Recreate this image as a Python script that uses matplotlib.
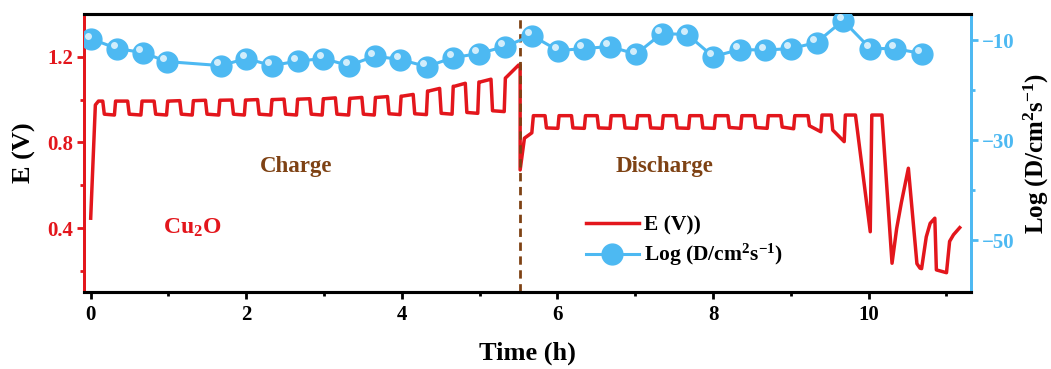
import numpy as np
import matplotlib
matplotlib.use("Agg")
import matplotlib.pyplot as plt
import matplotlib.transforms as mtransforms
from matplotlib.lines import Line2D

plt.rcParams['font.family'] = ['Liberation Serif', 'DejaVu Serif']
plt.rcParams['font.weight'] = 'bold'
plt.rcParams['mathtext.fontset'] = 'custom'
plt.rcParams['mathtext.rm'] = 'Liberation Serif:bold'
plt.rcParams['mathtext.it'] = 'Liberation Serif:bold'
plt.rcParams['mathtext.bf'] = 'Liberation Serif:bold'

# ---------------- data ----------------
# diffusion coefficient points (time in h, log D)
d_time = [0.01, 0.34, 0.67, 0.98, 1.67, 2.00, 2.33, 2.66, 2.99, 3.32, 3.65, 3.98,
          4.32, 4.66, 4.99, 5.32, 5.67, 6.01, 6.34, 6.67, 7.01, 7.34, 7.67, 8.00,
          8.34, 8.67, 9.00, 9.33, 9.67, 10.02, 10.34, 10.68]
d_logD = [-9.8, -11.7, -12.5, -14.3, -15.1, -13.7, -15.1, -14.2, -13.7, -15.1, -13.2, -13.9,
          -15.3, -13.5, -12.7, -11.3, -9.1, -12.1, -11.7, -11.3, -12.8, -8.7, -8.9, -13.3,
          -11.9, -12.0, -11.7, -10.5, -6.1, -11.7, -11.7, -12.7]

# GITT potential curve (time h, E V)
# charge: initial rise and first pulse
e_start_t = [0.00, 0.06, 0.10, 0.155, 0.175]
e_start_E = [0.447, 0.975, 0.993, 0.993, 0.932]
# charge pulses: rise time, high start, high end, low level following the pulse
ch_rise = [0.32, 0.66, 0.99, 1.32, 1.66, 1.99, 2.33, 2.66, 2.99, 3.33, 3.66, 3.99, 4.33, 4.66, 4.99]
ch_hi_s = [0.993, 0.993, 0.993, 0.995, 0.997, 0.998, 1.000, 1.002, 1.004, 1.006, 1.010, 1.016, 1.040, 1.062, 1.082]
ch_hi_e = [0.993, 0.993, 0.995, 0.997, 0.998, 1.000, 1.002, 1.004, 1.008, 1.010, 1.014, 1.024, 1.052, 1.076, 1.095]
ch_low = [0.928, 0.928, 0.928, 0.928, 0.928, 0.928, 0.928, 0.928, 0.928, 0.928, 0.930, 0.930, 0.932, 0.936, 0.944]
# last charge pulse and switch to discharge
e_mid_t = [5.315, 5.33, 5.35, 5.50, 5.52, 5.52, 5.575, 5.67, 5.69]
e_mid_E = [0.944, 1.100, 1.107, 1.161, 1.161, 0.672, 0.820, 0.845, 0.925]
# discharge pulses: drop time, low start, low end, rest (high) level after the pulse
dc_drop = [5.84, 6.18, 6.51, 6.85, 7.18, 7.52, 7.85, 8.19, 8.53, 8.87, 9.22, 9.52]
dc_lo_s = [0.868, 0.868, 0.868, 0.868, 0.868, 0.868, 0.868, 0.870, 0.870, 0.872, 0.878, 0.858]
dc_lo_e = [0.866, 0.866, 0.866, 0.866, 0.866, 0.866, 0.866, 0.866, 0.866, 0.864, 0.850, 0.804]
dc_high = [0.925, 0.925, 0.925, 0.925, 0.925, 0.925, 0.925, 0.925, 0.925, 0.925, 0.928, 0.928]
# end of discharge
e_end_t = [9.83, 10.02, 10.04, 10.17, 10.30, 10.36, 10.42, 10.51, 10.62, 10.66, 10.68,
           10.74, 10.79, 10.85, 10.87, 11.00, 11.04, 11.09, 11.17]
e_end_E = [0.928, 0.384, 0.928, 0.928, 0.237, 0.40, 0.52, 0.680, 0.235, 0.214, 0.212,
           0.36, 0.423, 0.447, 0.206, 0.193, 0.339, 0.370, 0.403]

# build the polyline from the read values
t_all = list(e_start_t)
E_all = list(e_start_E)
prev_low = e_start_E[-1] - 0.004
for i, r in enumerate(ch_rise):
    t_all += [r - 0.015, r, r + 0.015, r + 0.155, r + 0.175]
    E_all += [prev_low, ch_hi_s[i], ch_hi_s[i], ch_hi_e[i], ch_low[i] + 0.004]
    prev_low = ch_low[i]
t_all += e_mid_t
E_all += e_mid_E
prev_high = e_mid_E[-1]
for i, d in enumerate(dc_drop):
    t_all += [d, d + 0.018, d + 0.165, d + 0.18]
    E_all += [prev_high, dc_lo_s[i], dc_lo_e[i], dc_high[i]]
    prev_high = dc_high[i]
t_all += e_end_t
E_all += e_end_E

RED = '#E3161C'
BLUE = '#4DB9F2'
BROWN = '#7E4214'

# ---------------- figure ----------------
fig = plt.figure(figsize=(10.51, 3.69), dpi=100)
ax = fig.add_axes([84/1051, 1-292/369, (971-84)/1051, (292-14)/369])
ax2 = ax.twinx()

ax.plot(t_all, E_all, color=RED, lw=2.5, solid_joinstyle='round', zorder=3)
ax.axvline(5.52, color=BROWN, lw=2.0, ls=(0, (3, 2)), zorder=4)

ax2.plot(d_time, d_logD, color=BLUE, lw=2.2, marker='o', ms=15,
         mfc=BLUE, mec=BLUE, zorder=3)
off = mtransforms.ScaledTranslation(-2.5/72, 2.5/72, fig.dpi_scale_trans)
ax2.plot(d_time, d_logD, ls='none', marker='o', ms=5, mfc='white', mec='none',
         alpha=0.75, transform=ax2.transData + off, zorder=4)

ax.set_xlim(-0.086, 11.315)
ax.set_ylim(0.103, 1.399)
ax2.set_ylim(-60.3, -4.8)

ax.set_xticks([0, 2, 4, 6, 8, 10])
ax.set_xticks([1, 3, 5, 7, 9, 11], minor=True)
ax.set_yticks([0.4, 0.8, 1.2])
ax.set_yticks([0.2, 0.6, 1.0], minor=True)
ax2.set_yticks([-10, -30, -50])
ax2.set_yticks([-20, -40], minor=True)

ax.tick_params(axis='x', which='major', length=5, width=2, colors='black', labelsize=15, pad=4)
ax.tick_params(axis='x', which='minor', length=3, width=2, colors='black')
ax.tick_params(axis='y', which='major', length=5, width=2, colors=RED, labelsize=15, pad=3)
ax.tick_params(axis='y', which='minor', length=3, width=2, colors=RED)
ax2.tick_params(axis='y', which='major', length=5, width=2, colors=BLUE, labelsize=15, pad=3)
ax2.tick_params(axis='y', which='minor', length=3, width=2, colors=BLUE)

for a in (ax, ax2):
    a.spines['top'].set_linewidth(2.2)
    a.spines['bottom'].set_linewidth(2.2)
    a.spines['left'].set_color(RED)
    a.spines['left'].set_linewidth(2.0)
    a.spines['right'].set_color(BLUE)
    a.spines['right'].set_linewidth(2.0)

for lab in ax.get_xticklabels() + ax.get_yticklabels() + ax2.get_yticklabels():
    lab.set_fontweight('bold')

ax.set_xlabel('Time (h)', fontsize=19, fontweight='bold', labelpad=12)
ax.set_ylabel('E (V)', fontsize=19, fontweight='bold', labelpad=8)
ax2.set_ylabel(r'Log (D/cm$^{2}$s$^{-1}$)', fontsize=18, fontweight='bold', labelpad=5)

ax.text(2.64, 0.686, 'Charge', color=BROWN, fontsize=16.5, fontweight='bold', ha='center', va='center')
ax.text(7.37, 0.686, 'Discharge', color=BROWN, fontsize=16.5, fontweight='bold', ha='center', va='center')
ax.text(1.31, 0.40, r'Cu$_{2}$O', color=RED, fontsize=17, fontweight='bold', ha='center', va='center')

h1 = Line2D([], [], color=RED, lw=2.5)
h2 = Line2D([], [], color=BLUE, lw=2.2, marker='o', ms=15, mfc=BLUE, mec=BLUE)
leg = fig.legend([h1, h2], ['E (V))', r'Log (D/cm$^{2}$s$^{-1}$)'],
                 loc='upper left', bbox_to_anchor=(575/1051, 1-205/369), frameon=False,
                 prop={'family': 'Liberation Serif', 'weight': 'bold', 'size': 15.5},
                 handlelength=2.45, handletextpad=0.25, labelspacing=0.3, borderpad=0)

fig.savefig('out.png', dpi=100)
